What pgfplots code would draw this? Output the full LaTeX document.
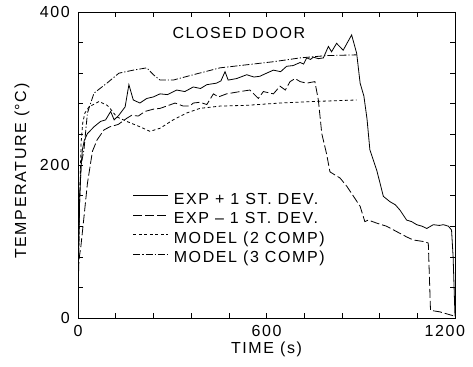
\documentclass[border=0pt]{standalone}
\usepackage{fontspec}
\setmainfont{Liberation Sans}
\newfontfamily\spaced{Liberation Sans}[LetterSpace=10]
\usepackage{pgfplots}
\pgfplotsset{compat=1.18}
\newcommand\myfont{\fontsize{16bp}{18bp}\selectfont\spaced}
\begin{document}
\begin{tikzpicture}
\begin{axis}[
  scale only axis, width=377bp, height=306bp,
  xmin=0, xmax=1200, ymin=0, ymax=400,
  xtick={0,600,1200}, xticklabels={0,600,\makebox[20bp][r]{1200}},
  ytick={0,200,400},
  minor x tick num=4, minor y tick num=4,
  major tick length=5bp, minor tick length=5bp,
  tick align=inside,
  axis line style={line width=0.7pt},
  every tick/.style={line width=0.6pt, black},
  /pgf/number format/assume math mode=true,
  /pgf/number format/1000 sep={},
  tick label style={font=\myfont, inner sep=0pt},
  xticklabel style={anchor=north, yshift=-7bp, text depth=0pt},
  yticklabel style={anchor=east, xshift=-8bp},
  xlabel={TIME (s)},
  label style={font=\myfont, inner sep=0pt},
  xlabel style={at={(axis description cs:0.5,0)}, anchor=center, yshift=-31bp},
  legend style={at={(axis cs:175,163)}, anchor=north west, draw=none, fill=none,
    font=\myfont, inner sep=0pt, outer sep=0pt, row sep=5.5bp, column sep=5bp,
    nodes={inner sep=0pt, text height=11bp, text depth=3bp}},
  legend cell align=left,
  legend image code/.code={\draw[#1] (0bp,4.5bp) -- (35bp,4.5bp);},
  every axis plot/.append style={line width=0.8bp, black},
]
% EXP + 1 ST. DEV.
\addplot[solid] coordinates {
(0,40) (5,150) (10,200) (14,220) (20,232) (30,241) (51,250) (72,257) (88,259) (104,270)
(115,259) (130,265) (150,276) (162,305) (176,285) (197,281) (219,287) (240,289) (261,293)
(285,292) (314,298) (340,296) (367,302) (390,300) (410,305) (441,307) (455,310) (468,322)
(478,311) (505,313) (537,318) (560,315) (579,316) (600,320) (622,324) (645,322) (664,329)
(685,330) (707,334) (718,332) (728,340) (740,338) (749,341) (765,339) (781,340) (797,355)
(807,348) (823,359) (835,354) (844,350) (871,370) (887,346) (898,307) (910,290) (920,260)
(929,220) (951,193) (972,159) (993,152) (1010,148) (1025,141) (1046,128) (1062,126)
(1078,122) (1095,120) (1110,117) (1131,122) (1150,121) (1163,122) (1179,120) (1189,115)
(1194,80) (1200,2)
};
\addlegendentry{EXP + 1 ST. DEV.}
% EXP - 1 ST. DEV.
\addplot[dash pattern=on 9bp off 3bp] coordinates {
(0,30) (3,76) (9,93) (19,132) (30,176) (46,218) (61,233) (83,246) (102,250) (128,253)
(155,261) (171,265) (192,264) (213,270) (240,273) (261,274) (282,277) (309,281) (335,277)
(356,277) (367,281) (388,282) (410,279) (431,293) (447,289) (473,293) (516,296) (547,298)
(574,287) (590,296) (622,293) (643,303) (660,298) (675,309) (691,313) (707,309) (728,307)
(754,309) (765,285) (776,241) (791,215) (802,191) (834,183) (856,172) (877,159) (898,146)
(913,126) (924,128) (951,124) (982,120) (1014,113) (1046,106) (1067,102) (1099,100)
(1115,98) (1122,10) (1152,8) (1194,3)
};
\addlegendentry{EXP – 1 ST. DEV.}
% MODEL (2 COMP)
\addplot[dash pattern=on 3bp off 2.5bp] coordinates {
(0,30) (5,150) (10,230) (15,255) (22,268) (35,276) (67,283) (93,278) (102,274) (123,263)
(155,257) (197,250) (229,244) (261,248) (303,259) (346,268) (388,274) (452,277) (537,278)
(643,281) (749,283) (887,285)
};
\addlegendentry{MODEL (2 COMP)}
% MODEL (3 COMP)
\addplot[dash pattern=on 7bp off 2bp on 1.2bp off 2bp] coordinates {
(0,30) (5,160) (10,200) (19,220) (30,268) (51,294) (92,307) (130,320) (176,324) (219,327)
(240,318) (261,311) (303,311) (367,318) (452,327) (537,331) (622,335) (707,340) (791,343)
(887,344)
};
\addlegendentry{MODEL (3 COMP)}
\node[font=\myfont, inner sep=0pt] at (axis cs:512,372) {CLOSED DOOR};
\coordinate (ylab) at (rel axis cs:0,0.48);
\end{axis}
\node[rotate=90, font=\myfont, inner sep=0pt] at ([xshift=-56bp]ylab) {TEMPERATURE (°C)};
\pgfresetboundingbox
\path[use as bounding box] ([shift={(-78bp,-49bp)}]current axis.south west) rectangle ++(473bp,367bp);
\end{tikzpicture}
\end{document}
